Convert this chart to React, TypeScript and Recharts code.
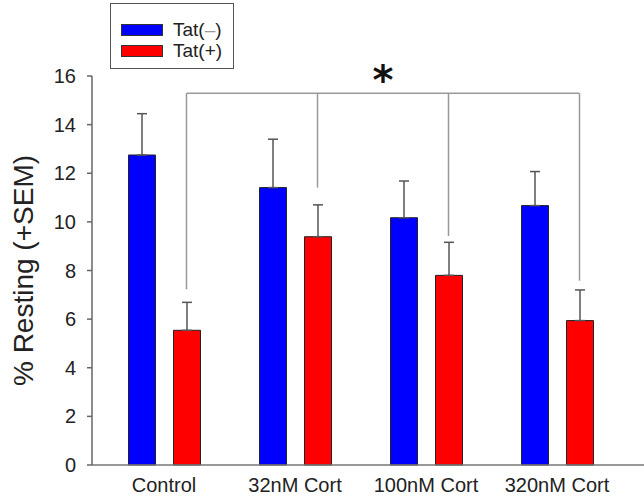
import { BarChart, Bar, XAxis, YAxis, ErrorBar, ReferenceLine, Legend } from 'recharts';

const categories = ['Control', '32nM Cort', '100nM Cort', '320nM Cort'];
const tatNeg = [12.75, 11.41, 10.17, 10.67];
const tatNegSem = [1.7, 1.99, 1.51, 1.4];
const tatPos = [5.54, 9.39, 7.8, 5.94];
const tatPosSem = [1.15, 1.31, 1.36, 1.26];
const yTicks = [0, 2, 4, 6, 8, 10, 12, 14, 16];

// significance bracket (y values) over the Tat(+) bars
const bracketTop = 15.29;
const bracketDrops = [7.23, 11.41, 9.42, 7.58];

const W = 644;
const H = 503;
const AXIS_W = 92;
const PAD = { left: 6.5, right: 21.5 };
const BAR_SIZE = 27;
const BAR_GAP = 18;
const FONT = '"Liberation Sans", Arial, sans-serif';
// shift from category centre to the centre of the Tat(+) bar
const RED_DX = (BAR_SIZE + BAR_GAP) / 2;

const data = categories.map((name, i) => ({
  name,
  neg: tatNeg[i],
  negErr: [0, tatNegSem[i]],
  pos: tatPos[i],
  posErr: [0, tatPosSem[i]],
}));

function ShiftedLine(props: any) {
  return (
    <line
      x1={props.x1 + RED_DX}
      y1={props.y1}
      x2={props.x2 + RED_DX}
      y2={props.y2}
      stroke="#999"
      strokeWidth={1.5}
    />
  );
}

function StarLabel(props: any) {
  const vb = props.viewBox || {};
  return (
    <text
      x={vb.x + vb.width / 2 + RED_DX}
      y={vb.y + 1}
      textAnchor="middle"
      fontSize={40}
      fontWeight="bold"
      fontFamily='"DejaVu Sans", sans-serif'
      fill="#111"
    >
      *
    </text>
  );
}

function YLabel(props: any) {
  const vb = props.viewBox || {};
  const cx = vb.x + 23;
  const cy = vb.y + vb.height / 2;
  return (
    <text
      transform={`translate(${cx},${cy}) rotate(-90)`}
      textAnchor="middle"
      dominantBaseline="central"
      fontSize={28}
      fontFamily={FONT}
      fill="#222"
    >
      % Resting (+SEM)
    </text>
  );
}

function LegendBox() {
  const items = [
    { label: 'Tat(', dash: '–', end: ')', color: '#0000FF' },
    { label: 'Tat(+)', dash: '', end: '', color: '#FF0000' },
  ];
  return (
    <div
      style={{
        boxSizing: 'border-box',
        width: 124,
        height: 66,
        border: '1.5px solid #555',
        background: '#fff',
        padding: '15px 0 0 10px',
        fontFamily: FONT,
        fontSize: 19,
        color: '#222',
      }}
    >
      {items.map((it) => (
        <div key={it.color} style={{ display: 'flex', alignItems: 'center', height: 21 }}>
          <span
            style={{
              display: 'inline-block',
              boxSizing: 'border-box',
              width: 42,
              height: 12,
              background: it.color,
              border: '1px solid #333',
              marginRight: 10,
            }}
          />
          <span>
            {it.label}
            {it.dash && <span style={{ color: '#999' }}>{it.dash}</span>}
            {it.end}
          </span>
        </div>
      ))}
    </div>
  );
}

export default function App() {
  const first = categories[0];
  const last = categories[categories.length - 1];
  return (
    <div style={{ position: 'absolute', left: 0, top: 0, width: W, height: H, background: '#fff' }}>
      <BarChart
        width={W}
        height={H}
        data={data}
        margin={{ top: 76, right: 0, bottom: 8, left: 0 }}
        barGap={BAR_GAP}
      >
        <XAxis
          dataKey="name"
          padding={PAD}
          tickLine={false}
          tickSize={6}
          tickMargin={7}
          height={30}
          axisLine={{ stroke: '#777', strokeWidth: 1.5 }}
          tick={{ fontSize: 20, fontFamily: FONT, fill: '#222' }}
          interval={0}
        />
        <YAxis
          domain={[0, 16]}
          ticks={yTicks}
          width={AXIS_W}
          tickSize={5}
          tickMargin={11}
          axisLine={{ stroke: '#666', strokeWidth: 1.5 }}
          tickLine={{ stroke: '#666', strokeWidth: 1.5 }}
          tick={{ fontSize: 20, fontFamily: FONT, fill: '#222' }}
          label={<YLabel />}
        />
        <Legend
          layout="vertical"
          align="center"
          verticalAlign="middle"
          content={() => <LegendBox />}
          wrapperStyle={{ left: 110, top: 3, width: 124, height: 66 }}
        />
        <Bar dataKey="neg" name="Tat(–)" fill="#0000FF" stroke="#222" strokeWidth={1} barSize={BAR_SIZE} isAnimationActive={false}>
          <ErrorBar dataKey="negErr" direction="y" width={5} stroke="#555" strokeWidth={1.5} isAnimationActive={false} />
        </Bar>
        <Bar dataKey="pos" name="Tat(+)" fill="#FF0000" stroke="#222" strokeWidth={1} barSize={BAR_SIZE} isAnimationActive={false}>
          <ErrorBar dataKey="posErr" direction="y" width={5} stroke="#555" strokeWidth={1.5} isAnimationActive={false} />
        </Bar>
        {bracketDrops.map((v, i) => (
          <ReferenceLine
            key={i}
            segment={[
              { x: categories[i], y: v },
              { x: categories[i], y: bracketTop },
            ]}
            shape={ShiftedLine}
            ifOverflow="visible"
          />
        ))}
        <ReferenceLine
          segment={[
            { x: first, y: bracketTop },
            { x: last, y: bracketTop },
          ]}
          shape={ShiftedLine}
          ifOverflow="visible"
          label={<StarLabel />}
        />
      </BarChart>
    </div>
  );
}
